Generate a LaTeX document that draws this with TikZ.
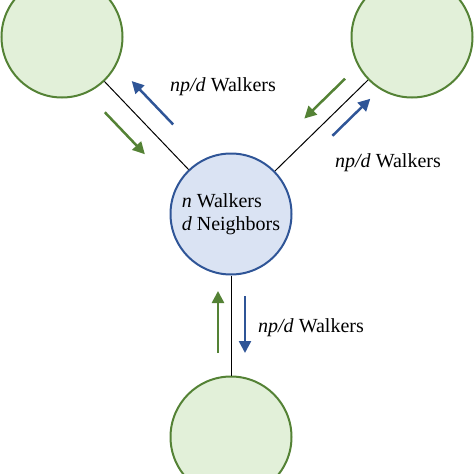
\documentclass[tikz,border=0pt]{standalone}
\usepackage{fontspec}
\setmainfont{Liberation Serif}
\usetikzlibrary{arrows.meta,calc}
\definecolor{walkgreen}{HTML}{548235}
\definecolor{walkgreenbg}{HTML}{E2F0D9}
\definecolor{walkblue}{HTML}{2F5597}
\definecolor{walkbluebg}{HTML}{DAE3F3}
\newcommand{\flowtext}{\textit{np/d} Walkers}

\begin{document}
\begin{tikzpicture}[
  x=1pt,y=-1pt,
  font=\fontsize{20}{23}\selectfont,
  peer/.style={circle, draw=walkgreen, fill=walkgreenbg, line width=2pt, minimum size=121pt, inner sep=0pt},
  hubnode/.style={circle, draw=walkblue, fill=walkbluebg, line width=2pt, minimum size=121pt, align=left, inner sep=2pt},
  link/.style={draw=black, line width=1pt},
  inflow/.style={-{Triangle[length=12pt,width=12pt]}, line width=2.5pt, draw=walkgreen},
  outflow/.style={-{Triangle[length=12pt,width=12pt]}, line width=2.5pt, draw=walkblue},
  tag/.style={inner sep=0pt},
]
\useasboundingbox (0,0) rectangle (474,474);
\clip (0,0) rectangle (474,474);

\node[hubnode] (hub) at (231,214) {\textit{n} Walkers\\\textit{d} Neighbors};
\node[peer] (nbA) at (62,37) {};
\node[peer] (nbB) at (412,37) {};
\node[peer] (nbC) at (231,437) {};

\draw[link] (hub) -- (nbA);
\draw[link] (hub) -- (nbB);
\draw[link] (hub) -- (nbC);

% walkers coming in (green) and going out (blue)
\draw[inflow] ($(nbA)!84pt!(hub)!21pt!-90:(hub)$) -- ($(nbA)!142pt!(hub)!21pt!-90:(hub)$);
\draw[outflow] ($(nbA)!140pt!(hub)!20pt!90:(hub)$) -- ($(nbA)!80pt!(hub)!20pt!90:(hub)$);
\draw[inflow] ($(nbB)!77pt!(hub)!17pt!-90:(hub)$) -- ($(nbB)!134pt!(hub)!17pt!-90:(hub)$);
\draw[outflow] ($(nbB)!126pt!(hub)!15pt!90:(hub)$) -- ($(nbB)!73pt!(hub)!15pt!90:(hub)$);
\draw[inflow] ($(nbC)!84pt!(hub)!13pt!90:(hub)$) -- ($(nbC)!146pt!(hub)!13pt!90:(hub)$);
\draw[outflow] ($(nbC)!141pt!(hub)!14pt!-90:(hub)$) -- ($(nbC)!84pt!(hub)!14pt!-90:(hub)$);

\node[tag] (lblA) at (223,87) {\flowtext};
\node[tag] (lblB) at (388,163) {\flowtext};
\node[tag] (lblC) at (311,328) {\flowtext};
\end{tikzpicture}
\end{document}
